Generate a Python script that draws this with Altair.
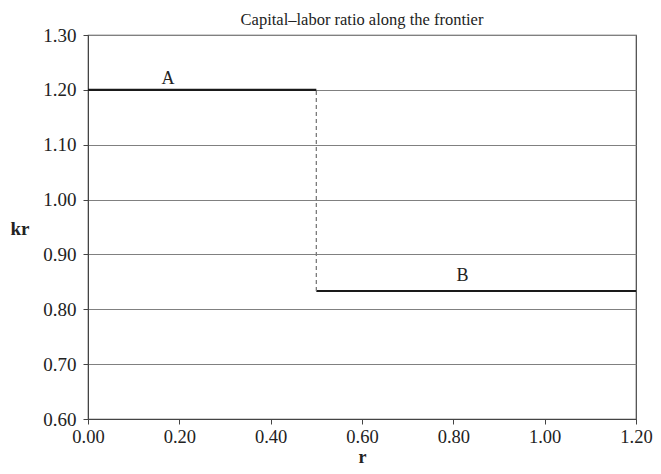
import altair as alt
import pandas as pd

seg_label = ["A", "B"]
seg_x0 = [0.0, 0.5]
seg_x1 = [0.5, 1.2]
seg_y = [1.20, 0.8333]

jump_x = [0.5]
jump_y0 = [0.8333]
jump_y1 = [1.20]

lab_text = ["A", "B"]
lab_x = [0.175, 0.82]
lab_y = [1.2107, 0.8516]

x_ticks = [0.0, 0.2, 0.4, 0.6, 0.8, 1.0, 1.2]
y_ticks = [0.6, 0.7, 0.8, 0.9, 1.0, 1.1, 1.2, 1.3]

FONT = "Liberation Serif"
INK = "#222222"

seg = pd.DataFrame({"label": seg_label, "x0": seg_x0, "x1": seg_x1, "y": seg_y})
jump = pd.DataFrame({"x": jump_x, "y0": jump_y0, "y1": jump_y1})
labs = pd.DataFrame({"t": lab_text, "x": lab_x, "y": lab_y})

xs = alt.Scale(domain=[0, 1.2], nice=False, zero=False)
ys = alt.Scale(domain=[0.6, 1.3], nice=False, zero=False)

xaxis = alt.Axis(values=x_ticks, format=".2f", title="r", grid=False, labelFlush=False,
                 tickSize=5, labelFontSize=18.5, titleFontSize=18, titleFontWeight="bold",
                 labelFont=FONT, titleFont=FONT, labelColor=INK, titleColor=INK,
                 domainColor="#444", tickColor="#444", labelPadding=3,
                 titleBaseline="alphabetic", titleY=43, titleX=274, titleAlign="center")
yaxis = alt.Axis(values=y_ticks, format=".2f", title="kr", grid=True, gridColor="#808080",
                 labelFlush=False,
                 tickSize=5, labelFontSize=19, titleFontSize=19, titleFontWeight="bold",
                 labelFont=FONT, titleFont=FONT, labelColor=INK, titleColor=INK,
                 domainColor="#444", tickColor="#444", titleAngle=0, titleAlign="right",
                 titleBaseline="middle", titleX=-59, titleY=193, labelPadding=7)

base_grid = alt.Chart(seg).mark_rule(opacity=0).encode(
    x=alt.X("x0:Q", scale=xs, axis=xaxis),
    y=alt.Y("y:Q", scale=ys, axis=yaxis),
)

lines = alt.Chart(seg).mark_rule(color="#1a1a1a", strokeWidth=2.2).encode(
    x=alt.X("x0:Q", scale=xs),
    x2="x1:Q",
    y=alt.Y("y:Q", scale=ys),
)

dash = alt.Chart(jump).mark_rule(color="#7a7a7a", strokeWidth=1.3, strokeDash=[4, 3]).encode(
    x=alt.X("x:Q", scale=xs),
    y=alt.Y("y0:Q", scale=ys),
    y2="y1:Q",
)

text = alt.Chart(labs).mark_text(font=FONT, fontSize=18, color=INK, baseline="alphabetic").encode(
    x=alt.X("x:Q", scale=xs),
    y=alt.Y("y:Q", scale=ys),
    text="t:N",
)

chart = alt.layer(base_grid, lines, dash, text).properties(
    width=548, height=384,
    title=alt.TitleParams("Capital–labor ratio along the frontier", font=FONT, fontSize=16.5,
                          fontWeight="normal", color=INK, anchor="middle", offset=-2),
    autosize=alt.AutoSizeParams(type="none"),
    padding={"left": 80, "top": 27, "right": 17, "bottom": 46},
).configure_view(stroke="#444", strokeWidth=1.2)

chart.save("out.html", embed_options={"renderer": "svg", "actions": False})
